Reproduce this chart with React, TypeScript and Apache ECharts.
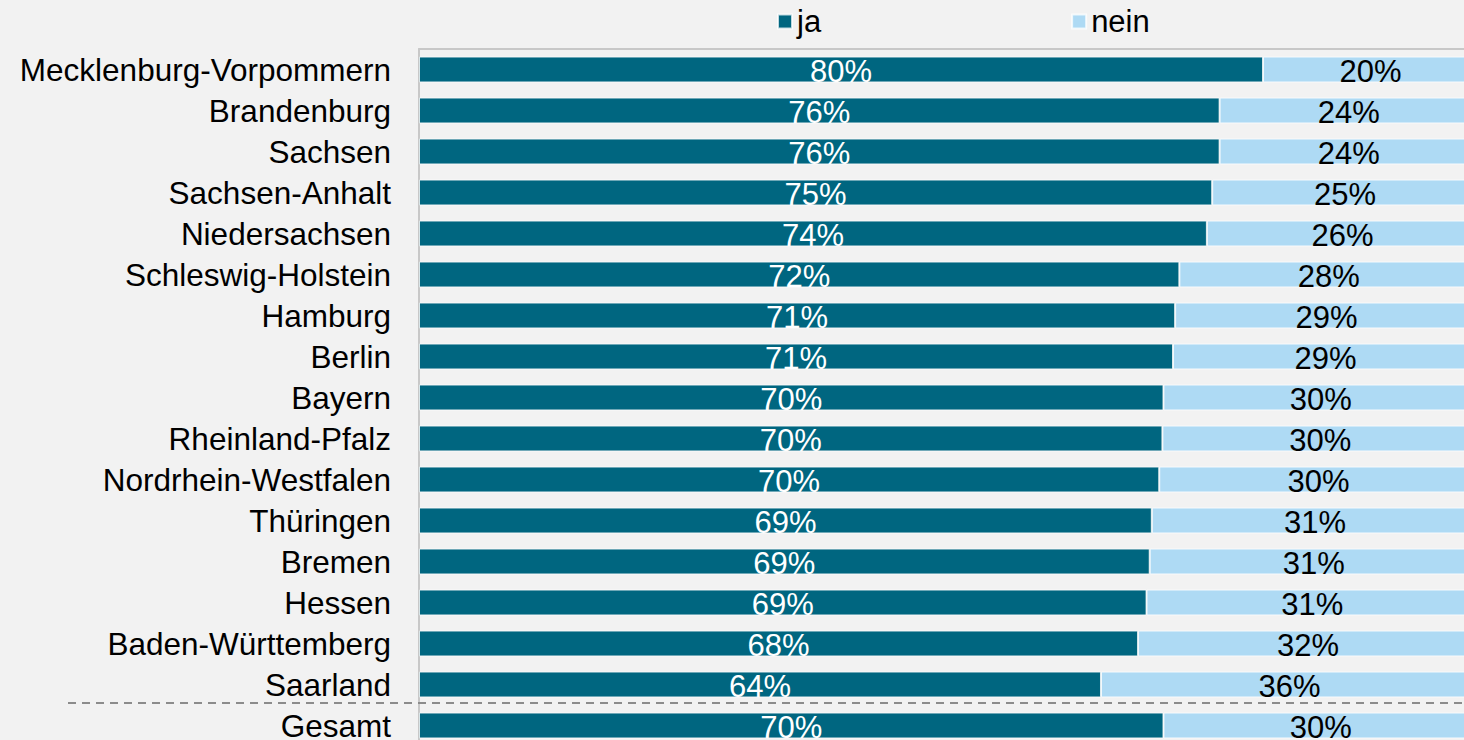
import React, { useEffect, useRef } from "react";
import * as echarts from "echarts";

const categories = [
  "Mecklenburg-Vorpommern",
  "Brandenburg",
  "Sachsen",
  "Sachsen-Anhalt",
  "Niedersachsen",
  "Schleswig-Holstein",
  "Hamburg",
  "Berlin",
  "Bayern",
  "Rheinland-Pfalz",
  "Nordrhein-Westfalen",
  "Thüringen",
  "Bremen",
  "Hessen",
  "Baden-Württemberg",
  "Saarland",
  "Gesamt",
];

const jaValues = [79.7, 75.6, 75.6, 74.9, 74.4, 71.8, 71.4, 71.2, 70.3, 70.2, 69.9, 69.2, 69.0, 68.7, 67.9, 64.4, 70.3];
const neinValues = [20.3, 24.4, 24.4, 25.1, 25.6, 28.2, 28.6, 28.8, 29.7, 29.8, 30.1, 30.8, 31.0, 31.3, 32.1, 35.6, 29.7];

const seriesNames = ["ja", "nein"];
const FONT = "'Liberation Sans', Arial, sans-serif";

export default function App() {
  const ref = useRef<HTMLDivElement>(null);

  useEffect(() => {
    document.body.style.margin = "0";
    document.body.style.background = "#f2f2f2";
    if (!ref.current) return;
    const chart = echarts.init(ref.current, null, { renderer: "svg" });
    const fmt = (p: any) => Math.round(p.value) + "%";
    chart.setOption({
      animation: false,
      backgroundColor: "#f2f2f2",
      textStyle: { fontFamily: FONT },
      legend: {
        left: 772,
        top: 1,
        itemWidth: 14,
        itemHeight: 14,
        itemGap: 250,
        icon: "rect",
        textStyle: { fontSize: 31, color: "#000", fontFamily: FONT },
        data: seriesNames,
      },
      grid: { left: 419, right: 0, top: 49, bottom: 0, containLabel: false },
      xAxis: {
        type: "value",
        position: "top",
        min: 0,
        max: 100,
        axisLine: { show: true, lineStyle: { color: "#c8c8c8", width: 2 } },
        axisTick: { show: false },
        axisLabel: { show: false },
        splitLine: { show: false },
      },
      yAxis: {
        type: "category",
        inverse: true,
        data: categories,
        axisLine: { show: true, lineStyle: { color: "#c8c8c8", width: 2 } },
        axisTick: { show: false },
        axisLabel: {
          interval: 0,
          fontSize: 31.5,
          lineHeight: 24,
          padding: [0, 0, 4, 0],
          color: "#000",
          margin: 28,
          fontFamily: FONT,
        },
      },
      series: [
        {
          name: seriesNames[0],
          type: "bar",
          stack: "total",
          data: jaValues,
          barCategoryGap: "37%",
          itemStyle: { color: "#006680", borderColor: "rgba(255,255,255,0.75)", borderWidth: 1 },
          label: {
            show: true,
            position: "inside",
            color: "#fff",
            fontSize: 31,
            lineHeight: 24,
            fontFamily: FONT,
            formatter: fmt,
            offset: [0, 2],
          },
        },
        {
          name: seriesNames[1],
          type: "bar",
          stack: "total",
          data: neinValues,
          barCategoryGap: "37%",
          itemStyle: { color: "#aedaf4", borderColor: "rgba(255,255,255,0.75)", borderWidth: 1 },
          label: {
            show: true,
            position: "inside",
            color: "#000",
            fontSize: 31,
            lineHeight: 24,
            fontFamily: FONT,
            formatter: fmt,
            offset: [0, 2],
          },
        },
      ],
    });
    const ySaar = chart.convertToPixel({ yAxisIndex: 0 }, categories[categories.length - 2]) as number;
    const yGes = chart.convertToPixel({ yAxisIndex: 0 }, categories[categories.length - 1]) as number;
    const yLine = Math.round((ySaar + yGes) / 2) - 2;
    chart.setOption({
      graphic: [
        {
          type: "line",
          z: 100,
          shape: { x1: 68, y1: yLine, x2: 1478, y2: yLine },
          style: { stroke: "#8c8c8c", lineWidth: 2, lineDash: [8, 6] },
        },
      ],
    });
    return () => chart.dispose();
  }, []);

  return (
    <div style={{ width: 1464, height: 740, overflow: "hidden", background: "#f2f2f2" }}>
      <div ref={ref} style={{ width: 1478, height: 746 }} />
    </div>
  );
}
